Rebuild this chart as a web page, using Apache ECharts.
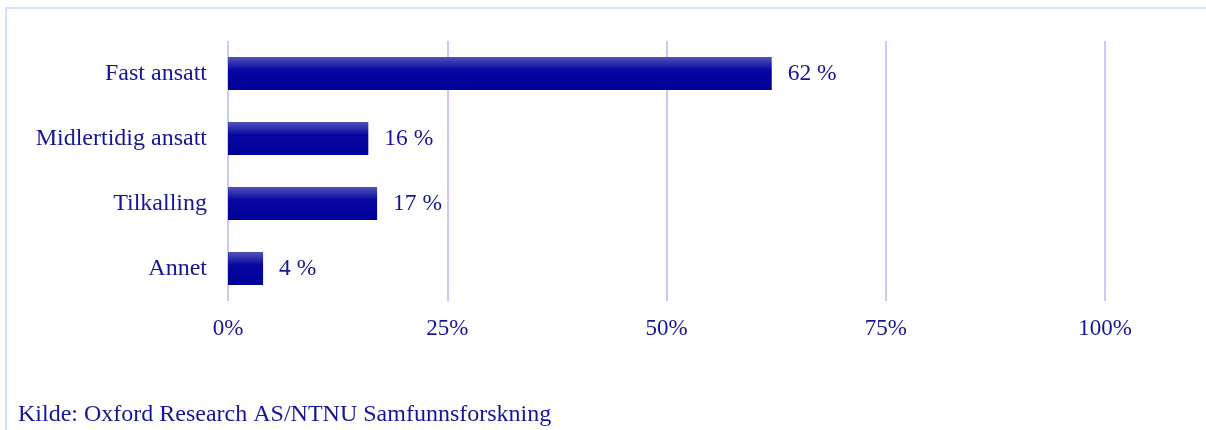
<!DOCTYPE html>
<html>
<head>
<meta charset="utf-8">
<script src="https://cdn.jsdelivr.net/npm/echarts@6/dist/echarts.min.js"></script>
<style>
html,body{margin:0;padding:0;background:#fff;}
#c{width:1206px;height:430px;}
</style>
</head>
<body>
<div id="c"></div>
<script>
const categories = ['Fast ansatt', 'Midlertidig ansatt', 'Tilkalling', 'Annet'];
const values = [62, 16, 17, 4];
const tickValues = [0, 25, 50, 75, 100];
const sourceText = 'Kilde: Oxford Research AS/NTNU Samfunnsforskning';

const txt = '#15159a';
const font = 'Liberation Serif';
const chart = echarts.init(document.getElementById('c'), null, {renderer: 'canvas'});
chart.setOption({
  animation: false,
  backgroundColor: '#ffffff',
  grid: {left: 228, right: 101, top: 41, bottom: 129, containLabel: false},
  xAxis: {
    type: 'value', min: 0, max: 100, interval: 25,
    axisLine: {show: false}, axisTick: {show: false},
    splitLine: {show: true, lineStyle: {color: '#c8c8ff', width: 2}},
    axisLabel: {color: txt, fontFamily: font, fontSize: 23, margin: 16,
      formatter: v => tickValues.includes(v) ? v + '%' : ''}
  },
  yAxis: {
    type: 'category', data: categories, inverse: true,
    axisLine: {show: false}, axisTick: {show: false},
    axisLabel: {color: txt, fontFamily: font, fontSize: 24, margin: 21}
  },
  series: [{
    type: 'bar', data: values, barWidth: 33,
    itemStyle: {
      color: new echarts.graphic.LinearGradient(0, 0, 0, 1, [
        {offset: 0, color: '#5252bb'},
        {offset: 0.4, color: '#0606a0'},
        {offset: 1, color: '#000099'}
      ])
    },
    label: {show: true, position: 'right', distance: 16, color: txt,
      fontFamily: font, fontSize: 23.5, formatter: '{c} %'}
  }],
  graphic: [
    {type: 'line', shape: {x1: 6, y1: 8, x2: 1206, y2: 8}, style: {stroke: '#d2e2ff', lineWidth: 2}},
    {type: 'line', shape: {x1: 6, y1: 8, x2: 6, y2: 430}, style: {stroke: '#d2e2ff', lineWidth: 2}},
    {type: 'text', left: 18, top: 403, style: {text: sourceText, fill: txt, font: '24px "Liberation Serif"'}}
  ]
});
</script>
</body>
</html>
